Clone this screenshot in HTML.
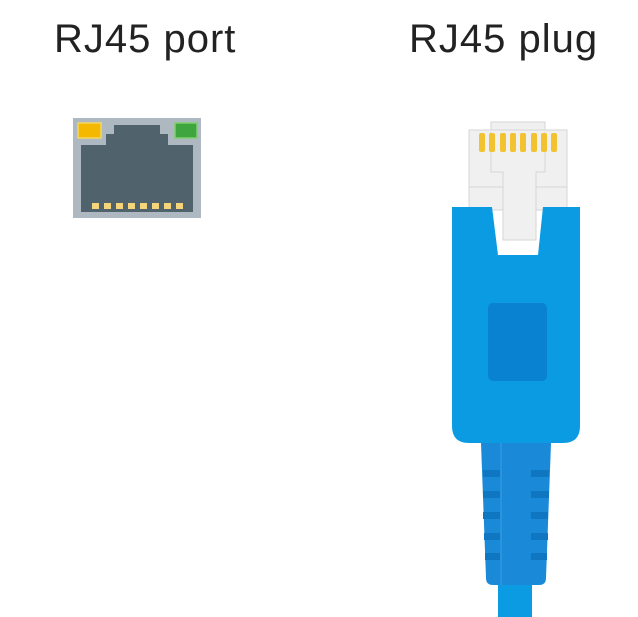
<!DOCTYPE html>
<html><head><style>
html,body{margin:0;padding:0;background:#fff;}
body{width:638px;height:617px;overflow:hidden;position:relative;}
svg{position:absolute;left:0;top:0;}
</style></head><body>
<svg width="638" height="617" viewBox="0 0 638 617" xmlns="http://www.w3.org/2000/svg">
<text x="54" y="52" font-family="Liberation Sans, sans-serif" font-size="40" letter-spacing="1" fill="#222">RJ45 port</text>
<text x="409" y="52" font-family="Liberation Sans, sans-serif" font-size="40" letter-spacing="1" fill="#222">RJ45 plug</text>
<!-- port -->
<rect x="73" y="118" width="128" height="100" fill="#adb8c0"/>
<rect x="78" y="123" width="23" height="15" fill="#f5b800" stroke="#f3d860" stroke-width="1.5"/>
<rect x="175" y="123" width="22" height="15" fill="#3fa53f" stroke="#7fcf6f" stroke-width="1.5"/>
<path d="M114 125H160V134H168V145H193V212H81V145H106V134H114Z" fill="#50626c"/>
<g fill="#f5d47a">
<rect x="92" y="203" width="7" height="6"/><rect x="104" y="203" width="7" height="6"/><rect x="116" y="203" width="7" height="6"/><rect x="128" y="203" width="7" height="6"/><rect x="140" y="203" width="7" height="6"/><rect x="152" y="203" width="7" height="6"/><rect x="164" y="203" width="7" height="6"/><rect x="176" y="203" width="7" height="6"/>
</g>
<!-- plug head -->
<rect x="491" y="122" width="54" height="10" fill="#f0f0f0" stroke="#d6d6d6"/>
<rect x="469" y="130" width="98" height="80" fill="#f0f0f0" stroke="#d6d6d6"/>
<line x1="469" y1="187" x2="567" y2="187" stroke="#d6d6d6"/>
<path d="M491 132V172H503V240H536V172H545V132" fill="#f0f0f0" stroke="#d6d6d6"/>
<g fill="#f2c230">
<rect x="479" y="133" width="6" height="19" rx="2"/><rect x="489" y="133" width="6" height="19" rx="2"/><rect x="500" y="133" width="6" height="19" rx="2"/><rect x="510" y="133" width="6" height="19" rx="2"/><rect x="520" y="133" width="6" height="19" rx="2"/><rect x="531" y="133" width="6" height="19" rx="2"/><rect x="541" y="133" width="6" height="19" rx="2"/><rect x="551" y="133" width="6" height="19" rx="2"/>
</g>
<!-- cable -->
<rect x="498" y="580" width="34" height="37" fill="#0a9be3"/>
<!-- boot -->
<path d="M481 443H551L546 578Q546 585 539 585H493Q486 585 486 578Z" fill="#1a8ad8"/>
<line x1="501" y1="443" x2="501" y2="585" stroke="#3a9fe4" stroke-width="1"/>
<g fill="#0f77c2">
<rect x="483" y="470" width="17" height="7"/><rect x="483" y="491" width="17" height="7"/><rect x="483" y="512" width="17" height="7"/><rect x="484" y="533" width="16" height="7"/><rect x="485" y="553" width="15" height="7"/>
<rect x="531" y="470" width="18" height="7"/><rect x="531" y="491" width="18" height="7"/><rect x="531" y="512" width="17" height="7"/><rect x="531" y="533" width="17" height="7"/><rect x="531" y="553" width="16" height="7"/>
</g>
<!-- blue body -->
<path d="M452 207H492L498 255H538L543 207H580V426Q580 443 563 443H469Q452 443 452 426Z" fill="#0a9be3"/>
<rect x="488" y="303" width="59" height="78" rx="5" fill="#0a82d2"/>
</svg>
</body></html>
